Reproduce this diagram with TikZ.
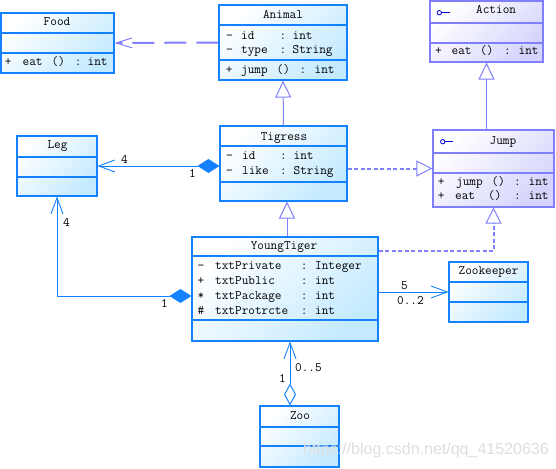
\documentclass[tikz,border=0pt]{standalone}
\usepackage{fontspec}
\newfontfamily\wmfont{Liberation Sans}
\usetikzlibrary{arrows.meta}
\definecolor{clsborder}{RGB}{20,130,255}
\definecolor{clstop}{RGB}{255,255,255}
\definecolor{clsbot}{RGB}{196,234,255}
\definecolor{ifborder}{RGB}{128,128,255}
\definecolor{iftop}{RGB}{255,255,255}
\definecolor{ifbot}{RGB}{212,212,252}
\definecolor{genline}{RGB}{128,128,255}
\definecolor{asline}{RGB}{20,130,255}
\definecolor{iconblue}{RGB}{0,0,220}
\definecolor{wmgray}{RGB}{222,222,222}
\tikzset{
  umlclass/.style={draw=clsborder, line width=1.1pt, rectangle, inner sep=0pt,
    top color=clstop, bottom color=clsbot, shading angle=45},
  umliface/.style={draw=ifborder, line width=1.1pt, rectangle, inner sep=0pt,
    top color=iftop, bottom color=ifbot, shading angle=45},
  clsdiv/.style={draw=clsborder, line width=1.1pt},
  ifdiv/.style={draw=ifborder, line width=1.1pt},
  txt/.style={font=\ttfamily\fontsize{12.9}{14}\selectfont, anchor=base west, inner sep=0pt},
  ttl/.style={txt, anchor=base},
  lbl/.style={txt},
  gen/.style={draw=genline, line width=1pt, -{Triangle[length=17pt,width=16pt,fill=white]}},
  real/.style={draw=genline, line width=2pt, dash pattern=on 4pt off 2.5pt,
    -{Triangle[length=16pt,width=16pt,fill=white,line width=1pt]}},
  dep/.style={draw=genline, line width=2pt, dash pattern=on 22pt off 10pt,
    -{Straight Barb[length=16pt,width=10pt,line width=1pt]}},
  assoc/.style={draw=asline, line width=1pt, -{Straight Barb[length=16pt,width=12pt,line width=0.9pt]}},
  comp/.style={draw=asline, line width=1pt,
    {Diamond[length=22pt,width=14pt]}-{Straight Barb[length=16pt,width=12pt,line width=0.9pt]}},
  aggr/.style={draw=asline, line width=1pt,
    {Diamond[length=22pt,width=12pt,fill=white]}-{Straight Barb[length=16pt,width=12pt,line width=0.9pt]}},
  icon/.style={draw=iconblue, line width=0.8pt},
}
\newcommand\txtat[3]{\node[txt] at (#1,#2) {#3};}
\begin{document}
\begin{tikzpicture}[x=1pt,y=-1pt]
\useasboundingbox (0,0) rectangle (556,468);

% ---------- class boxes ----------
\node[umlclass, minimum width=113pt, minimum height=60pt] (food) at (57.5,43) {};
\node[umlclass, minimum width=128pt, minimum height=75pt] (animal) at (283,42.5) {};
\node[umliface, minimum width=113pt, minimum height=61pt] (action) at (486.5,31.5) {};
\node[umliface, minimum width=121pt, minimum height=77pt] (jump) at (493.5,168.5) {};
\node[umlclass, minimum width=80pt, minimum height=60pt] (leg) at (57,166) {};
\node[umlclass, minimum width=127pt, minimum height=75pt] (tigress) at (283.5,163.5) {};
\node[umlclass, minimum width=186pt, minimum height=104pt] (youngtiger) at (285,289) {};
\node[umlclass, minimum width=79pt, minimum height=60pt] (zookeeper) at (488.5,292) {};
\node[umlclass, minimum width=79pt, minimum height=61pt] (zoo) at (299.5,436.5) {};

% ---------- compartment dividers ----------
\draw[clsdiv] (food.west |- 0,33) -- (food.east |- 0,33);
\draw[clsdiv] (food.west |- 0,53) -- (food.east |- 0,53);
\draw[clsdiv] (animal.west |- 0,25) -- (animal.east |- 0,25);
\draw[clsdiv] (animal.west |- 0,60) -- (animal.east |- 0,60);
\draw[ifdiv] (action.west |- 0,23) -- (action.east |- 0,23);
\draw[ifdiv] (action.west |- 0,43) -- (action.east |- 0,43);
\draw[ifdiv] (jump.west |- 0,153) -- (jump.east |- 0,153);
\draw[ifdiv] (jump.west |- 0,173) -- (jump.east |- 0,173);
\draw[clsdiv] (leg.west |- 0,157) -- (leg.east |- 0,157);
\draw[clsdiv] (leg.west |- 0,177) -- (leg.east |- 0,177);
\draw[clsdiv] (tigress.west |- 0,146) -- (tigress.east |- 0,146);
\draw[clsdiv] (tigress.west |- 0,182) -- (tigress.east |- 0,182);
\draw[clsdiv] (youngtiger.west |- 0,256) -- (youngtiger.east |- 0,256);
\draw[clsdiv] (youngtiger.west |- 0,320) -- (youngtiger.east |- 0,320);
\draw[clsdiv] (zookeeper.west |- 0,282) -- (zookeeper.east |- 0,282);
\draw[clsdiv] (zookeeper.west |- 0,302) -- (zookeeper.east |- 0,302);
\draw[clsdiv] (zoo.west |- 0,427) -- (zoo.east |- 0,427);
\draw[clsdiv] (zoo.west |- 0,446) -- (zoo.east |- 0,446);

% ---------- titles ----------
\node[ttl] at (57,26) {Food};
\node[ttl] at (283,19) {Animal};
\node[txt] at (476,14) {Action};
\node[txt] at (489.5,144) {Jump};
\node[ttl] at (57.5,148) {Leg};
\node[ttl] at (284,140) {Tigress};
\node[ttl] at (284,249.5) {YoungTiger};
\node[ttl] at (488.5,274) {Zookeeper};
\node[ttl] at (300,419) {Zoo};

% interface icons
\draw[icon] (439.3,12.7) circle (2.2pt);
\draw[icon] (441.5,12.7) -- (450,12.7);
\draw[icon] (442.7,141.7) circle (2.2pt);
\draw[icon] (444.9,141.7) -- (453.3,141.7);

% ---------- members ----------
% Food
\txtat{4.6}{66}{+}\txtat{22.5}{66}{eat}\txtat{51.5}{66}{()}\txtat{74.6}{66}{:}\txtat{87.5}{66}{int}
% Animal
\txtat{226}{39.5}{−}\txtat{241}{39.5}{id}\txtat{279.3}{39.5}{:}\txtat{292.5}{39.5}{int}
\txtat{226}{54}{−}\txtat{241}{54}{type}\txtat{279.3}{54}{:}\txtat{292.5}{54}{String}
\txtat{225.6}{73.5}{+}\txtat{241}{73.5}{jump}\txtat{276.5}{73.5}{()}\txtat{299.3}{73.5}{:}\txtat{314.5}{73.5}{int}
% Action
\txtat{435}{55}{+}\txtat{451.5}{55}{eat}\txtat{480}{55}{()}\txtat{504}{55}{:}\txtat{518.5}{55}{int}
% Jump
\txtat{437.6}{185}{+}\txtat{456}{185}{jump}\txtat{491.5}{185}{()}\txtat{514}{185}{:}\txtat{528.5}{185}{int}
\txtat{437.6}{199}{+}\txtat{455}{199}{eat}\txtat{488}{199}{()}\txtat{514}{199}{:}\txtat{528.5}{199}{int}
% Tigress
\txtat{226}{159.5}{−}\txtat{242}{159.5}{id}\txtat{280}{159.5}{:}\txtat{293.5}{159.5}{int}
\txtat{226}{174}{−}\txtat{242}{174}{like}\txtat{280}{174}{:}\txtat{293.5}{174}{String}
% YoungTiger
\txtat{197.3}{269.5}{−}\txtat{215}{269.5}{txtPrivate}\txtat{300.6}{269.5}{:}\txtat{315}{269.5}{Integer}
\txtat{197.3}{284.5}{+}\txtat{215}{284.5}{txtPublic}\txtat{300.6}{284.5}{:}\txtat{315}{284.5}{int}
\txtat{197.3}{299.5}{*}\txtat{215}{299.5}{txtPackage}\txtat{300.6}{299.5}{:}\txtat{315}{299.5}{int}
\txtat{197.3}{314.5}{\#}\txtat{215}{314.5}{txtProtrcte}\txtat{300.6}{314.5}{:}\txtat{315}{314.5}{int}

% ---------- connectors ----------
\draw[dep] (animal.west) -- (food.east);
\draw[gen] (tigress.north) -- (animal.south);
\draw[gen] (jump.north -| action.south) -- (action.south);
\draw[real] (tigress.east |- jump.west) -- (jump.west);
\draw[gen] ([xshift=2pt]youngtiger.north) -- ([xshift=2pt]youngtiger.north |- tigress.south);
\draw[real] ([yshift=-15pt]youngtiger.north east) -| (jump.south);
\draw[comp] (tigress.west |- leg.east) -- (leg.east);
\draw[comp] ([yshift=-7pt]youngtiger.west) -| (leg.south);
\draw[assoc] (youngtiger.east |- zookeeper.west) -- (zookeeper.west);
\draw[aggr] ([xshift=-9.5pt]zoo.north) -- ([xshift=-9.5pt]zoo.north |- youngtiger.south);

% ---------- multiplicities ----------
\node[lbl] (m1) at (121,163) {4};
\node[lbl] (m2) at (189,177.5) {1};
\node[lbl] (m3) at (63,226) {4};
\node[lbl] (m4) at (161,307) {1};
\node[lbl] (m5) at (401,289) {5};
\node[lbl] (m6) at (397,304) {0..2};
\node[lbl] (m7) at (295,371) {0..5};
\node[lbl] (m8) at (279,382) {1};

% ---------- watermark ----------
\node[anchor=base west, inner sep=0pt, text=wmgray, font=\wmfont\fontsize{16}{18}\selectfont] (wm) at (303,454) {https://blog.csdn.net/qq\_41520636};
\end{tikzpicture}
\end{document}
